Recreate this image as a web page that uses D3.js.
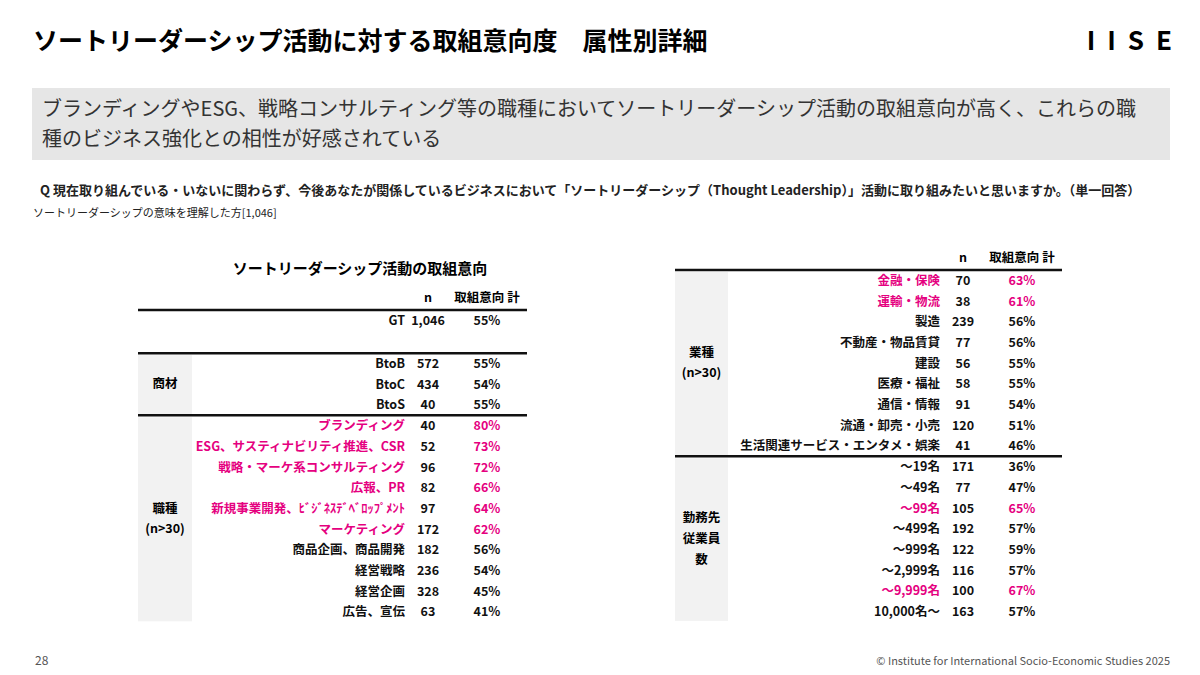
<!DOCTYPE html>
<html><head><meta charset="utf-8">
<script src="https://cdn.jsdelivr.net/npm/d3@7"></script>
<style>body{margin:0;background:#fff}text{font-family:"Noto Sans CJK JP","Noto Sans",sans-serif}</style>
</head><body><svg id="c" width="1200" height="675"></svg>
<script>
var PINK = "#e5007f";
var leftTop = [{label:"GT", n:"1,046", pct:55}];
var shozai = [{label:"BtoB",n:"572",pct:55},{label:"BtoC",n:"434",pct:54},{label:"BtoS",n:"40",pct:55}];
var shokushu = [
  {label:"ブランディング",n:"40",pct:80,hi:true},
  {label:"ESG、サスティナビリティ推進、CSR",n:"52",pct:73,hi:true},
  {label:"戦略・マーケ系コンサルティング",n:"96",pct:72,hi:true},
  {label:"広報、PR",n:"82",pct:66,hi:true},
  {label:"新規事業開発、ﾋﾞｼﾞﾈｽﾃﾞﾍﾞﾛｯﾌﾟﾒﾝﾄ",n:"97",pct:64,hi:true},
  {label:"マーケティング",n:"172",pct:62,hi:true},
  {label:"商品企画、商品開発",n:"182",pct:56},
  {label:"経営戦略",n:"236",pct:54},
  {label:"経営企画",n:"328",pct:45},
  {label:"広告、宣伝",n:"63",pct:41}];
var gyoshu = [
  {label:"金融・保険",n:"70",pct:63,hi:true},
  {label:"運輸・物流",n:"38",pct:61,hi:true},
  {label:"製造",n:"239",pct:56},
  {label:"不動産・物品賃貸",n:"77",pct:56},
  {label:"建設",n:"56",pct:55},
  {label:"医療・福祉",n:"58",pct:55},
  {label:"通信・情報",n:"91",pct:54},
  {label:"流通・卸売・小売",n:"120",pct:51},
  {label:"生活関連サービス・エンタメ・娯楽",n:"41",pct:46}];
var jugyoin = [
  {label:"～19名",n:"171",pct:36},
  {label:"～49名",n:"77",pct:47},
  {label:"～99名",n:"105",pct:65,hi:true},
  {label:"～499名",n:"192",pct:57},
  {label:"～999名",n:"122",pct:59},
  {label:"～2,999名",n:"116",pct:57},
  {label:"～9,999名",n:"100",pct:67,hi:true},
  {label:"10,000名～",n:"163",pct:57}];

var svg = d3.select("#c");
svg.append("text").attr("x",33).attr("y",50).attr("font-size",25).attr("font-weight",700).text("ソートリーダーシップ活動に対する取組意向度　属性別詳細");
svg.append("text").attr("x",1184).attr("y",50).attr("text-anchor","end").attr("font-size",26).attr("font-weight",700).attr("letter-spacing","12px").attr("font-family","DejaVu Sans").text("IISE");
svg.append("rect").attr("x",32).attr("y",88).attr("width",1138).attr("height",72).attr("fill","#e6e6e6");
svg.append("text").attr("x",42).attr("y",116).attr("font-size",20).attr("fill","#333").text("ブランディングやESG、戦略コンサルティング等の職種においてソートリーダーシップ活動の取組意向が高く、これらの職");
svg.append("text").attr("x",42).attr("y",146).attr("font-size",20).attr("fill","#333").text("種のビジネス強化との相性が好感されている");
svg.append("text").attr("x",40).attr("y",195).attr("font-size",13).attr("font-weight",700).attr("fill","#222").text("Q  現在取り組んでいる・いないに関わらず、今後あなたが関係しているビジネスにおいて「ソートリーダーシップ（Thought Leadership）」活動に取り組みたいと思いますか。（単一回答）");
svg.append("text").attr("x",33).attr("y",217).attr("font-size",11).attr("fill","#222").text("ソートリーダーシップの意味を理解した方[1,046]");
svg.append("text").attr("x",35).attr("y",665).attr("font-size",12).attr("fill","#555").text("28");
svg.append("text").attr("x",1170).attr("y",665).attr("text-anchor","end").attr("font-size",11).attr("fill","#555").text("© Institute for International Socio-Economic Studies 2025");

var step = 20.7;
function table(o){
  var g = svg.append("g");
  var y0 = o.y0;
  function line(y){ g.append("line").attr("x1",o.x0).attr("x2",o.x1).attr("y1",y).attr("y2",y).attr("stroke","#111").attr("stroke-width",2.5); }
  g.append("text").attr("x",o.nx).attr("y",y0-8).attr("text-anchor","middle").attr("font-size",12.5).attr("font-weight",700).text("n");
  g.append("text").attr("x",o.px).attr("y",y0-8).attr("text-anchor","middle").attr("font-size",12.5).attr("font-weight",700).text("取組意向 計");
  line(y0);
  var y = y0;
  o.groups.forEach(function(gr){
    if(gr.gapBefore){ y += gr.gapBefore; line(y); }
    var yb = d3.scaleBand().domain(d3.range(gr.rows.length)).range([y, y+gr.rows.length*step]);
    if(gr.name){
      g.append("rect").attr("x",o.x0).attr("y",y+2).attr("width",o.gw).attr("height",gr.rows.length*step-3).attr("fill","#f2f2f2");
      var lines = gr.name.split("|");
      var mid = y + gr.rows.length*step/2, lh = gr.lh||20;
      lines.forEach(function(t,i){
        g.append("text").attr("x",o.x0+o.gw/2).attr("y",mid+(i-(lines.length-1)/2)*lh+4).attr("text-anchor","middle").attr("font-size",12.5).attr("font-weight",700).text(t);
      });
    }
    gr.rows.forEach(function(r,i){
      var cy = yb(i)+yb.bandwidth()/2+4.5;
      var col = r.hi ? PINK : "#111";
      g.append("text").attr("x",o.lx).attr("y",cy).attr("text-anchor","end").attr("font-size",12.5).attr("font-weight",700).attr("fill",col).text(r.label);
      g.append("text").attr("x",o.nx).attr("y",cy).attr("text-anchor","middle").attr("font-size",12.5).attr("font-weight",700).attr("fill","#111").text(r.n);
      g.append("text").attr("x",o.px).attr("y",cy).attr("text-anchor","middle").attr("font-size",12.5).attr("font-weight",700).attr("fill",col).text(r.pct+"%");
    });
    y += gr.rows.length*step;
    if(gr.lineAfter){ line(y); }
  });
}
svg.append("text").attr("x",360).attr("y",274).attr("text-anchor","middle").attr("font-size",15).attr("font-weight",700).text("ソートリーダーシップ活動の取組意向");
table({x0:138,x1:527,gw:54,lx:405,nx:428,px:487,y0:310,groups:[
  {rows:leftTop},
  {gapBefore:22.5,name:"商材",rows:shozai,lineAfter:true},
  {name:"職種|(n>30)",rows:shokushu}]});
table({x0:675,x1:1062,gw:53,lx:940,nx:963,px:1022,y0:270,groups:[
  {name:"業種|(n>30)",rows:gyoshu,lineAfter:true},
  {name:"勤務先|従業員|数",lh:21,rows:jugyoin}]});
</script></body></html>
